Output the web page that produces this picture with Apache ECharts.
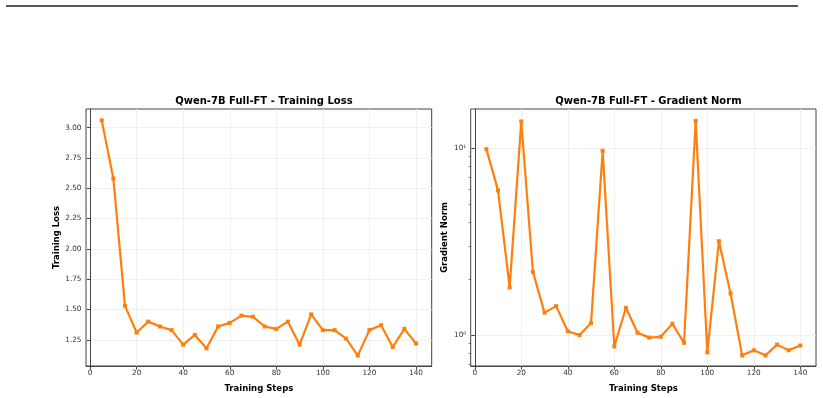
<!DOCTYPE html>
<html>
<head>
<meta charset="utf-8">
<script src="https://cdn.jsdelivr.net/npm/echarts@6.0.0/dist/echarts.min.js"></script>
<style>
  html, body { margin: 0; padding: 0; background: #fff; }
  #chart { width: 823px; height: 398px; }
</style>
</head>
<body>
<div id="chart"></div>
<script>
// data
const steps = [5, 10, 15, 20, 25, 30, 35, 40, 45, 50, 55, 60, 65, 70, 75, 80, 85, 90, 95, 100, 105, 110, 115, 120, 125, 130, 135, 140];
const trainLoss = [3.06, 2.58, 1.53, 1.31, 1.40, 1.36, 1.33, 1.21, 1.29, 1.18, 1.36, 1.39, 1.45, 1.44, 1.36, 1.34, 1.40, 1.21, 1.46, 1.33, 1.33, 1.26, 1.12, 1.33, 1.37, 1.19, 1.34, 1.22];
const gradNorm = [9.88, 5.95, 1.80, 13.9, 2.18, 1.32, 1.43, 1.05, 1.00, 1.16, 9.68, 0.87, 1.40, 1.03, 0.97, 0.98, 1.15, 0.91, 14.0, 0.81, 3.18, 1.67, 0.78, 0.83, 0.78, 0.89, 0.83, 0.88];
const stepTicks = [0, 20, 40, 60, 80, 100, 120, 140];
const lossTicks = [1.25, 1.50, 1.75, 2.00, 2.25, 2.50, 2.75, 3.00];
const normTicks = [1, 10];
const normMinorTicks = [0.7, 0.8, 0.9, 2, 3, 4, 5, 6, 7, 8, 9];

const ORANGE = '#ff7f0e';
const FONT = 'DejaVu Sans';
const chart = echarts.init(document.getElementById('chart'));

const pairs = (ys) => steps.map((s, i) => [s, ys[i]]);
const sup = { '1': '\u00b9', '0': '\u2070' };

function xAxis(gridIndex) {
  return {
    type: 'value', gridIndex: gridIndex,
    min: -1.75, max: 146.75,
    name: 'Training Steps', nameLocation: 'middle', nameGap: 18,
    nameTextStyle: { fontFamily: FONT, fontWeight: 'bold', fontSize: 8.5, color: '#000' },
    axisLine: { show: true, onZero: false, lineStyle: { color: '#444', width: 1 } },
    axisTick: { show: true, length: 3.5, customValues: stepTicks, lineStyle: { color: '#444' } },
    axisLabel: { customValues: stepTicks, fontFamily: FONT, fontSize: 7.3, color: '#333', margin: 4 },
    splitLine: { show: true, lineStyle: { color: '#ebebeb', width: 0.8 } }
  };
}

chart.setOption({
  animation: false,
  backgroundColor: '#fff',
  title: [
    { text: 'Qwen-7B Full-FT - Training Loss', left: 258.9, top: 91.5, textAlign: 'center',
      textStyle: { fontFamily: FONT, fontWeight: 'bold', fontSize: 10, color: '#000' } },
    { text: 'Qwen-7B Full-FT - Gradient Norm', left: 643.4, top: 91.5, textAlign: 'center',
      textStyle: { fontFamily: FONT, fontWeight: 'bold', fontSize: 10, color: '#000' } }
  ],
  graphic: [
    { type: 'line', shape: { x1: 6, y1: 6, x2: 798, y2: 6 }, style: { stroke: '#222', lineWidth: 1.3 } }
  ],
  grid: [
    { left: 86, top: 109, width: 345.7, height: 258, show: true, borderColor: '#444', borderWidth: 1 },
    { left: 470.7, top: 109, width: 345.3, height: 258, show: true, borderColor: '#444', borderWidth: 1 }
  ],
  xAxis: [xAxis(0), xAxis(1)],
  yAxis: [
    {
      type: 'value', gridIndex: 0, min: 1.034, max: 3.154,
      name: 'Training Loss', nameLocation: 'middle', nameGap: 24,
      nameTextStyle: { fontFamily: FONT, fontWeight: 'bold', fontSize: 8.5, color: '#000' },
      axisLine: { show: true, lineStyle: { color: '#444', width: 1 } },
      axisTick: { show: true, length: 3.5, customValues: lossTicks, lineStyle: { color: '#444' } },
      axisLabel: { customValues: lossTicks, formatter: (v) => v.toFixed(2),
        fontFamily: FONT, fontSize: 7.3, color: '#333', margin: 4.5 },
      splitLine: { show: true, lineStyle: { color: '#ebebeb', width: 0.8 } }
    },
    {
      type: 'log', gridIndex: 1, min: 0.684, max: 16.2,
      name: 'Gradient Norm', nameLocation: 'middle', nameGap: 21,
      nameTextStyle: { fontFamily: FONT, fontWeight: 'bold', fontSize: 8.5, color: '#000' },
      axisLine: { show: true, lineStyle: { color: '#444', width: 1 } },
      axisTick: { show: true, length: 3.5, customValues: normTicks, lineStyle: { color: '#444' } },
      axisLabel: { customValues: normTicks,
        formatter: (v) => '10' + sup[String(Math.round(Math.log10(v)))],
        fontFamily: FONT, fontSize: 7.3, color: '#333', margin: 4.5 },
      splitLine: { show: true, lineStyle: { color: '#ebebeb', width: 0.8 } }
    },
    {
      type: 'log', gridIndex: 1, min: 0.684, max: 16.2, position: 'left',
      axisLine: { show: false },
      axisTick: { show: true, length: 2, customValues: normMinorTicks, lineStyle: { color: '#444', width: 0.7 } },
      axisLabel: { show: false },
      splitLine: { show: false }
    }
  ],
  series: [
    {
      type: 'line', xAxisIndex: 0, yAxisIndex: 0, data: pairs(trainLoss),
      symbol: 'rect', symbolSize: 4, showSymbol: true,
      lineStyle: { color: ORANGE, width: 2.2 }, itemStyle: { color: ORANGE }
    },
    {
      type: 'line', xAxisIndex: 1, yAxisIndex: 1, data: pairs(gradNorm),
      symbol: 'rect', symbolSize: 4, showSymbol: true,
      lineStyle: { color: ORANGE, width: 2.2 }, itemStyle: { color: ORANGE }
    }
  ]
});
</script>
</body>
</html>
